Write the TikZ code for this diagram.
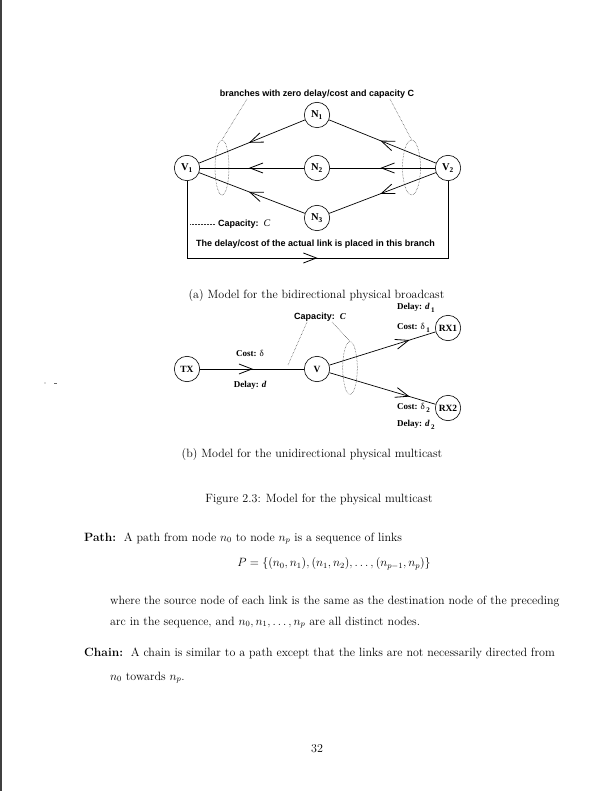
\documentclass[tikz,border=0pt]{standalone}
\usepackage{fontspec}
\newfontfamily\hv{Liberation Sans}
\newfontfamily\tm{Liberation Serif}
\usetikzlibrary{arrows.meta,decorations.markings,shapes.geometric}
\tikzset{
  nd/.style={circle, draw, line width=0.6pt, minimum size=25.4pt, inner sep=0pt,
    font=\tm\bfseries\fontsize{9.5}{10}\selectfont},
  nda/.style={nd, font=\tm\bfseries\fontsize{10.5}{11}\selectfont},
  lnk/.style={line width=0.7pt},
  midarr/.style={postaction={decorate}, decoration={markings,
    mark=at position #1 with {\arrow{Straight Barb[length=13pt,width=10pt,line width=0.8pt]}}}},
  dots/.style={densely dotted, line width=0.5pt, black!80},
  ell/.style={ellipse, draw, dots, inner sep=0pt},
  hvlab/.style={font=\hv\bfseries\fontsize{9}{10}\selectfont, inner sep=0pt},
  tmlab/.style={font=\tm\bfseries\fontsize{9}{10}\selectfont, inner sep=0pt, anchor=west},
  captxt/.style={font=\fontsize{12}{14}\selectfont, inner sep=0pt},
  txt/.style={font=\fontsize{12}{14}\selectfont, inner sep=0pt},
}
\newcommand{\lowsub}[1]{\,\raisebox{-2.5pt}{\fontsize{7}{8}\selectfont #1}}
\begin{document}
\begin{tikzpicture}[x=1pt,y=-1pt]
\useasboundingbox (0,0) rectangle (612,791);
\fill[white] (0,0) rectangle (612,791);
\fill[black!75] (0,0) rectangle (2,791);
\fill[black!60] (45,383) circle (0.6);
\fill[black!60] (54,383) rectangle (57,383.8);

% ---------- (a) ----------
\node[hvlab] (ttl) at (317,94) {branches with zero delay/cost and capacity C};
\node[nda] (N1) at (317,115) {N\textsubscript{1}};
\node[nda] (N2) at (317,168) {N\textsubscript{2}};
\node[nda] (N3) at (317,218) {N\textsubscript{3}};
\node[nda] (V1) at (187,168) {V\textsubscript{1}};
\node[nda] (V2) at (448,168) {V\textsubscript{2}};

\draw[lnk, midarr=0.53] (N1) -- (V1);
\draw[lnk, midarr=0.53] (N2) -- (V1);
\draw[lnk, midarr=0.53] (N3) -- (V1);
\draw[lnk, midarr=0.52] (V2) -- (N1);
\draw[lnk, midarr=0.52] (V2) -- (N2);
\draw[lnk, midarr=0.52] (V2) -- (N3);

\coordinate (bl) at (187,258);
\coordinate (br) at (448,258);
\draw[lnk, midarr=0.5] (V1) -- (bl) -- (br) -- (V2);

\node[ell, minimum width=14pt, minimum height=55pt] (E1) at (222,167.5) {};
\node[ell, minimum width=18pt, minimum height=55pt] (E2) at (411.5,167.5) {};
\coordinate (t1) at (247,99);
\coordinate (t2) at (390,99);
\draw[dots] (t1) -- (E1.north);
\draw[dots] (t2) -- (E2.north);

\coordinate (lg1) at (190,224);
\coordinate (lg2) at (215,224);
\draw[dots] (lg1) -- (lg2);
\node[hvlab, anchor=west] (capa) at (218,224) {Capacity:\ \ {\tm\itshape\mdseries\fontsize{10}{11}\selectfont C}};
\node[hvlab] (brtxt) at (315.5,244) {The delay/cost of the actual link is placed in this branch};

\node[captxt] (capA) at (316.5,296) {(a) Model for the bidirectional physical broadcast};

% ---------- (b) ----------
\node[nd] (TX) at (187,369) {TX};
\node[nd] (V) at (317,369) {V};
\node[nd] (RX1) at (448,328) {RX1};
\node[nd] (RX2) at (448,408) {RX2};

\draw[lnk, midarr=0.51] (TX) -- (V);
\draw[lnk, midarr=0.755] (V) -- (RX1);
\draw[lnk, midarr=0.755] (V) -- (RX2);

\node[tmlab, anchor=center] (cst) at (250,353) {Cost: {\mdseries δ}};
\node[tmlab, anchor=center] (dly) at (250,385) {Delay: {\itshape d}};

\node[hvlab] (capb) at (320,317) {Capacity:\ \ {\tm\itshape C}};
\node[ell, minimum width=14.6pt, minimum height=52.6pt] (E3) at (350,368) {};
\coordinate (c1) at (307,322);
\coordinate (c2) at (288,365);
\coordinate (c3) at (332,322);
\draw[dots] (c1) -- (c2);
\draw[dots] (c3) -- (E3.north);

\node[tmlab] (d1) at (397,308) {Delay: {\itshape d}\lowsub{1}};
\node[tmlab] (s1) at (397,328) {Cost: {\mdseries δ}\lowsub{1}};
\node[tmlab] (s2) at (397,408) {Cost: {\mdseries δ}\lowsub{2}};
\node[tmlab] (d2) at (397,425) {Delay: {\itshape d}\lowsub{2}};

\node[captxt] (capB) at (312,455) {(b) Model for the unidirectional physical multicast};

\node[captxt] (fig) at (319,500) {Figure 2.3: Model for the physical multicast};

% ---------- body text ----------
\node[txt, anchor=base west] (p1) at (84,541) {\textbf{Path:}\ \ A path from node $n_0$ to node $n_p$ is a sequence of links};
\node[txt] (eq) at (334,564) {$P=\{(n_0,n_1),(n_1,n_2),\ldots,(n_{p-1},n_p)\}$};
\node[txt, anchor=base west] (p2) at (110,604) {where the source node of each link is the same as the destination node of the preceding};
\node[txt, anchor=base west] (p3) at (110,625) {arc in the sequence, and $n_0,n_1,\ldots,n_p$ are all distinct nodes.};
\node[txt, anchor=base west] (p4) at (84,656) {\textbf{Chain:}\ \ A chain is similar to a path except that the links are not necessarily directed from};
\node[txt, anchor=base west] (p5) at (110,680) {$n_0$ towards $n_p$.};
\node[captxt] (pg) at (317,749) {32};
\end{tikzpicture}
\end{document}
